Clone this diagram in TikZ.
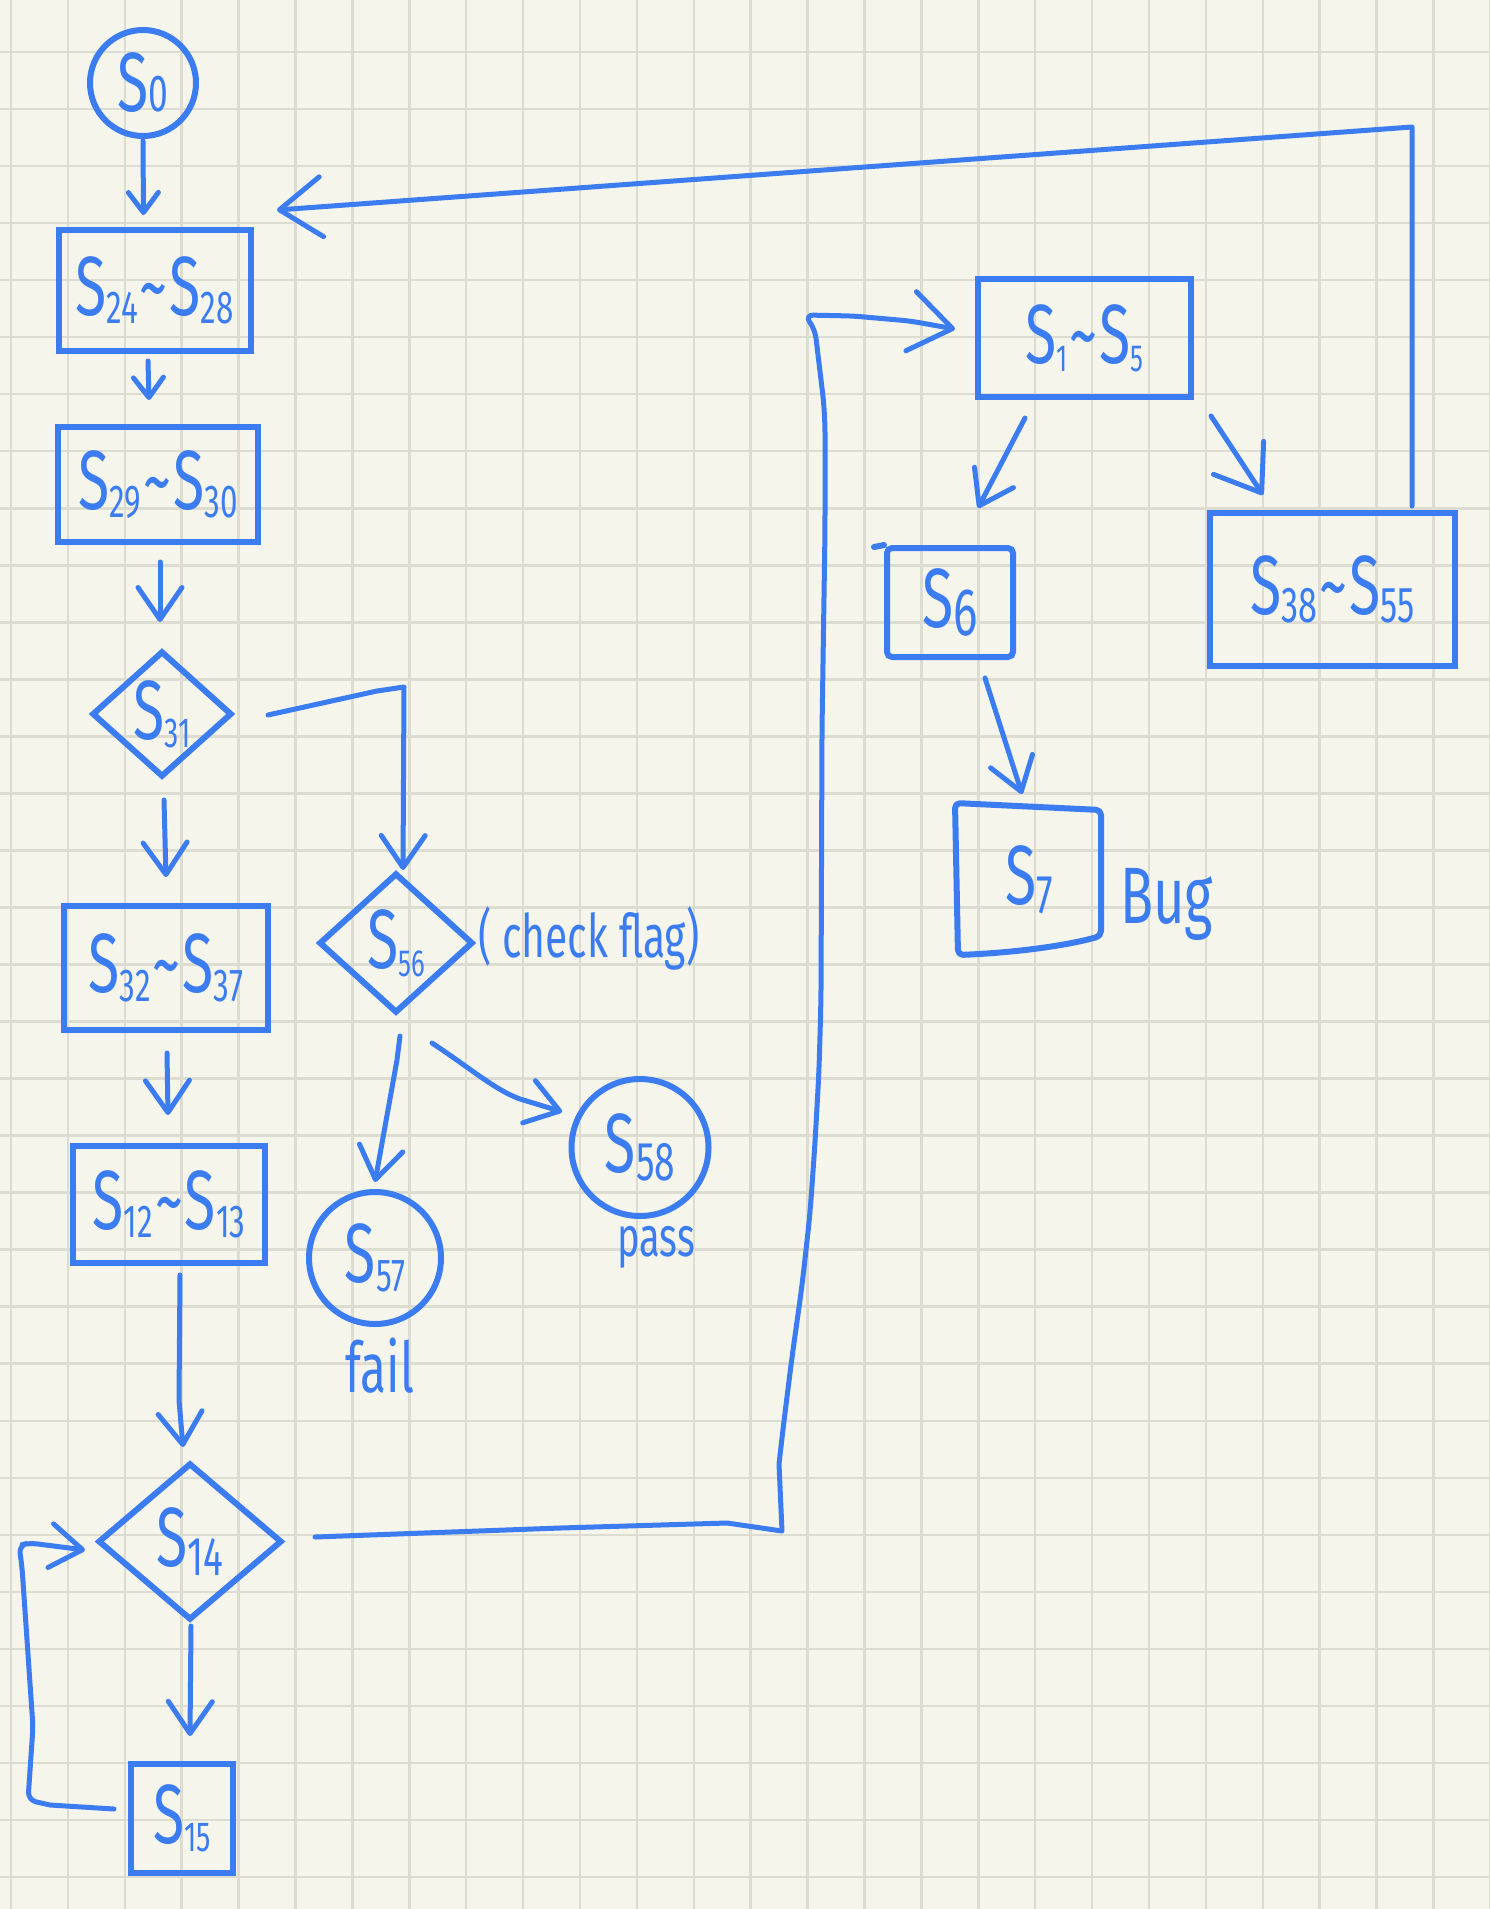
\documentclass[tikz,border=0pt]{standalone}
\usepackage{fontspec}
\usepackage{graphicx}
\usetikzlibrary{arrows.meta,shapes.geometric}
\newfontfamily\hand{Fira Sans}[FakeStretch=0.68]
\definecolor{pen}{RGB}{59,125,241}
\definecolor{paper}{RGB}{246,245,236}
\definecolor{gridc}{RGB}{221,220,209}
\newcommand\hS[2][0.55]{S\raisebox{-0.1em}{\scalebox{#1}{#2}}}
\newcommand\tld{\kern2pt\textasciitilde\kern2pt}
\begin{document}
\begin{tikzpicture}[x=1pt,y=-1pt,
  shp/.style={draw=pen, line width=6pt, text=pen, inner sep=0pt,
    font=\hand\fontsize{84}{84}\selectfont},
  boxn/.style={shp, rectangle},
  diam/.style={shp, diamond},
  circ/.style={shp, circle},
  lbl/.style={text=pen, inner sep=0pt},
  conn/.style={draw=pen, line width=5pt, line cap=round, line join=round},
  arrS/.style={conn, -{Straight Barb[length=20pt,width=30pt,round]}},
  arrM/.style={conn, -{Straight Barb[length=32pt,width=44pt,round]}},
  arrL/.style={conn, -{Straight Barb[length=42pt,width=60pt,round]}},
  gridline/.style={draw=gridc, line width=2.5pt}]
\useasboundingbox (0,0) rectangle (1489,1909);
\fill[paper] (0,0) rectangle (1489,1909);
\foreach \i in {0,...,26} \draw[gridline] ({11+56.9*\i},-5) -- ({11+56.9*\i},1915);
\foreach \j in {0,...,33} \draw[gridline] (-5,{-5+57.03*\j}) -- (1495,{-5+57.03*\j});

% nodes
\node[circ, minimum size=106pt] (s0) at (143,83) {S\scalebox{0.62}{0}};
\node[boxn, minimum width=192pt, minimum height=121pt] (b1) at (154.5,290.5) {\hS{24}\tld\hS{28}};
\node[boxn, minimum width=200pt, minimum height=115pt] (b2) at (158,484.5) {\hS{29}\tld\hS{30}};
\node[diam, minimum width=140pt, minimum height=126pt] (d1) at (162,714) {\hS[0.5]{31}};
\node[boxn, minimum width=204pt, minimum height=124pt] (b3) at (166,968) {\hS{32}\tld\hS{37}};
\node[diam, minimum width=154pt, minimum height=140pt] (d2) at (396,943) {\hS[0.45]{56}};
\node[lbl, anchor=base west, font=\hand\fontsize{60}{60}\selectfont] (flag) at (478,957) {( check flag)};
\node[circ, minimum size=132pt] (c57) at (375,1258) {\hS{57}};
\node[lbl, anchor=base, font=\hand\fontsize{70}{70}\selectfont] (fail) at (380,1392) {fail};
\node[circ, minimum size=137pt] (c58) at (640,1147.5) {\hS[0.65]{58}};
\node[lbl, anchor=base, font=\hand\fontsize{56}{56}\selectfont] (pass) at (656,1256) {pass};
\node[boxn, minimum width=192pt, minimum height=117pt] (b4) at (169,1204.5) {\hS{12}\tld\hS{13}};
\node[diam, minimum width=184pt, minimum height=157pt] (d3) at (190,1541.5) {\hS[0.65]{14}};
\node[boxn, minimum width=102pt, minimum height=109pt] (b5) at (182,1818.5) {\hS[0.5]{15}};
\node[boxn, minimum width=213pt, minimum height=118pt] (b6) at (1084.5,338) {\hS[0.45]{1}\tld\hS[0.45]{5}};
\node[boxn, rounded corners=5pt, minimum width=126pt, minimum height=109pt] (b7) at (950,602.5) {\hS[0.8]{6}};
\draw[conn, line width=6pt] (b7.north west) -- ++(-10,2);
\node[shp, draw=none, minimum width=137pt, minimum height=144pt] (b8) at (1029.5,880) {\hS[0.65]{7}};
\draw[conn, line width=6pt, rounded corners=5pt] ([shift={(-3,-2)}]b8.north west) -- ([shift={(0,5)}]b8.north east)
  -- ([shift={(0,-19)}]b8.south east) .. controls ([shift={(-40,-8)}]b8.south east) and ([shift={(50,-2)}]b8.south west) .. (b8.south west) -- cycle;
\node[lbl, anchor=base west, font=\hand\fontsize{80}{80}\selectfont] (bug) at (1120,923) {Bug};
\node[boxn, minimum width=245pt, minimum height=153pt] (b9) at (1332.5,589.5) {\hS[0.6]{38}\tld\hS[0.6]{55}};

% connectors
\draw[arrS] ([shift={(0,2)}]s0.south) -- ([shift={(-11,-12)}]b1.north);
\draw[arrS] ([shift={(-6.5,7)}]b1.south) -- ([shift={(-9,-24)}]b2.north);
\draw[arrM] ([shift={(2,17)}]b2.south) -- ([shift={(-2,-26)}]d1.north);
\draw[arrM] ([shift={(2,20)}]d1.south) -- ([shift={(0,-26)}]b3.north);
\draw[arrM] ([shift={(33,1)}]d1.east) -- (377,691) -- (404,687) -- ([shift={(7,0)}]d2.north);
\draw[arrM] ([shift={(1,20)}]b3.south) -- ([shift={(-1,-28)}]b4.north);
\draw[arrM] ([shift={(4,20)}]d2.south) -- (397,1060) -- ([shift={(0,-7)}]c57.north);
\draw[arrM] ([shift={(36,27)}]d2.south) .. controls (470,1068) and (495,1090) .. (520,1099) -- ([shift={(-16,0)}]c58.150);
\draw[arrM] ([shift={(11,9)}]b4.south) -- (179,1400) -- ([shift={(-7,-13)}]d3.north);
\draw[arrM] ([shift={(1,3)}]d3.south) -- ([shift={(8,-25)}]b5.north);
\draw[arrM] ([shift={(-14,-9.5)}]b5.west) -- (50,1805) [rounded corners=8pt] -- (28,1800) -- (33,1727) -- (22,1567) -- (19,1545) -- (30,1543) -- ([shift={(-10,8.5)}]d3.west);
\draw[arrL] ([shift={(30,-4.5)}]d3.east) -- (560,1528) -- (727,1523) -- (782,1531) -- (779,1464) [rounded corners=20pt] -- (783,1429) -- (792,1357) -- (802,1286) -- (810,1214) -- (815,1143) -- (819,1071) -- (821,1000) -- (822,730) -- (825,530) -- (825,413) [rounded corners=8pt] -- (815,330) -- (805,315) -- (853,316) -- (910,321) -- ([shift={(-20,-9)}]b6.west);
\draw[arrM] ([shift={(-59.5,18)}]b6.south) -- ([shift={(28,-37)}]b7.north);
\draw[arrM] ([shift={(35,18)}]b7.south) -- ([shift={(-7.5,-11)}]b8.north);
\draw[arrL] ([shift={(17,16)}]b6.south east) -- ([shift={(-69.5,-15)}]b9.north);
\draw[arrL] ([shift={(79.5,-4)}]b9.north) -- (1412,127) -- ([shift={(23.5,-17)}]b1.north east);
\end{tikzpicture}
\end{document}
